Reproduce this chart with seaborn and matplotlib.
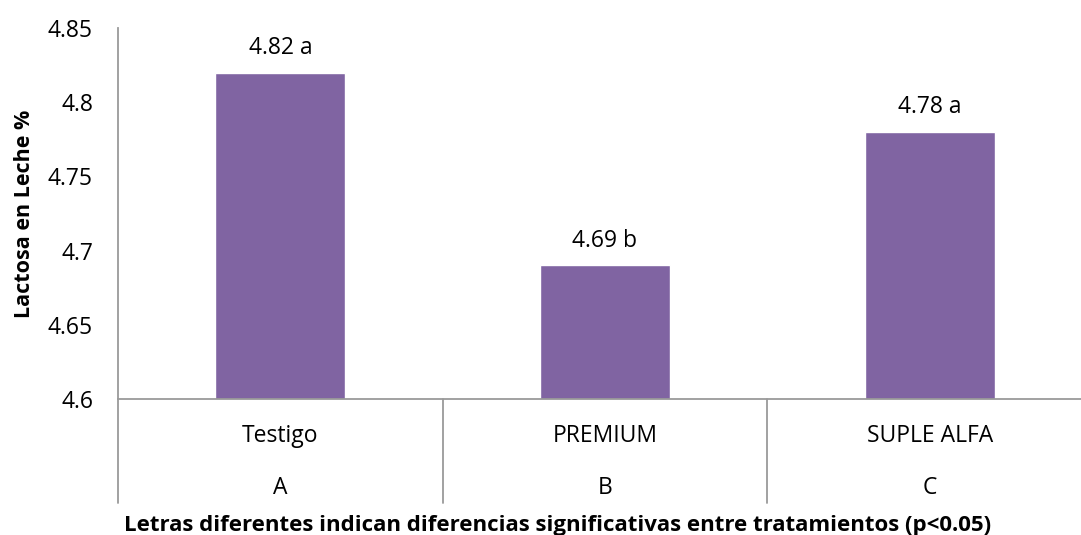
import matplotlib
matplotlib.use("Agg")
import matplotlib.pyplot as plt
import seaborn as sns
import pandas as pd

# ── Data ─────────────────────────────────────────────────────────────────────
TRATAMIENTOS = ["Testigo", "PREMIUM", "SUPLE ALFA"]
GRUPOS       = ["A", "B", "C"]
LACTOSA      = [4.82, 4.69, 4.78]
LETRAS       = ["a", "b", "a"]
Y_TICKS      = [4.6, 4.65, 4.7, 4.75, 4.8, 4.85]
Y_TICKLABELS = ["4.6", "4.65", "4.7", "4.75", "4.8", "4.85"]

BAR_COLOR  = "#8064A2"
AXIS_COLOR = "#9a9a9a"
TXT = "black"

sns.set_style("white")
plt.rcParams["font.family"] = ["Open Sans", "DejaVu Sans"]

df = pd.DataFrame({"trat": TRATAMIENTOS, "lactosa": LACTOSA})

fig = plt.figure(figsize=(10.81, 5.35), dpi=100)
W, H = 1081, 535
ax = fig.add_axes([118 / W, 1 - 399 / H, (1092 - 118) / W, (399 - 28) / H])

sns.barplot(data=df, x="trat", y="lactosa", order=TRATAMIENTOS,
            color=BAR_COLOR, saturation=1, width=0.40, ax=ax)

ax.set_ylim(4.6, 4.85)
ax.set_xlim(-0.5, 2.5)
ax.set_yticks(Y_TICKS)
ax.set_yticklabels(Y_TICKLABELS, fontsize=16.5, color=TXT)
ax.tick_params(axis="y", length=0, pad=18)
ax.set_xticks([])
ax.set_xlabel("")
ax.set_ylabel("Lactosa en Leche %", fontsize=15.5, fontweight="bold",
              color=TXT, labelpad=9)

for side in ("top", "right"):
    ax.spines[side].set_visible(False)
for side in ("left", "bottom"):
    ax.spines[side].set_color(AXIS_COLOR)
    ax.spines[side].set_linewidth(1.3)

# value labels
for i, (v, l) in enumerate(zip(LACTOSA, LETRAS)):
    ax.annotate(f"{v:.2f} {l}", (i, v), xytext=(0, 9), textcoords="offset points",
                ha="center", va="bottom", fontsize=16.5, color=TXT)

# multi-level category axis
trans = ax.get_xaxis_transform()
for i, (t, g) in enumerate(zip(TRATAMIENTOS, GRUPOS)):
    ax.text(i, -0.1, t, transform=trans, ha="center", va="center",
            fontsize=16.5, color=TXT)
    ax.text(i, -0.24, g, transform=trans, ha="center", va="center",
            fontsize=16.5, color=TXT)
for x in (-0.5, 0.5, 1.5):
    ax.plot([x, x], [0, -0.28], transform=trans, color=AXIS_COLOR,
            linewidth=1.3, clip_on=False)

fig.text(558 / W, 1 - 525 / H,
         "Letras diferentes indican diferencias significativas entre tratamientos (p<0.05)",
         ha="center", va="center", fontsize=16, fontweight="bold", color=TXT)

fig.savefig("out.png", dpi=100)
